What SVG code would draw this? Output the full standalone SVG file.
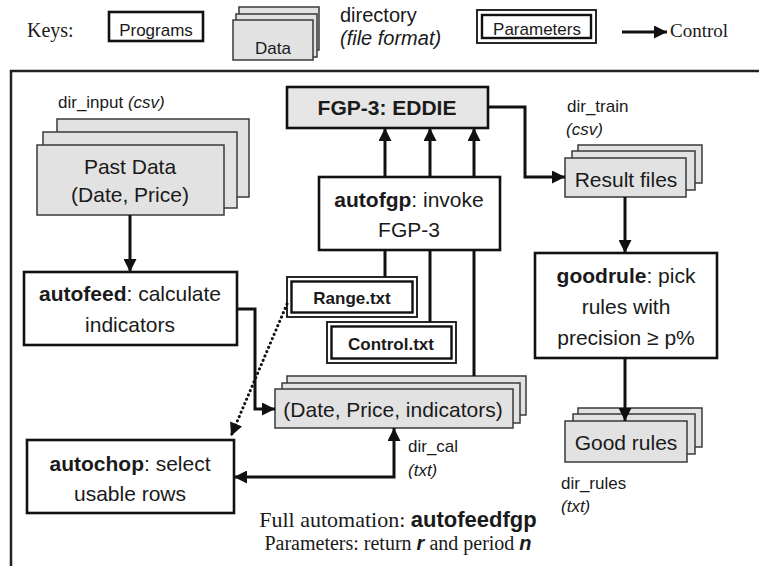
<svg xmlns="http://www.w3.org/2000/svg" width="759" height="566" viewBox="0 0 759 566">
<style>
.prog{fill:#fff;stroke:#111;stroke-width:2.6}
.eddie{fill:#e6e6e6;stroke:#111;stroke-width:2.6}
.sheet{fill:#e2e2e2;stroke:#3a3a3a;stroke-width:1.5}
.po{fill:#fff;stroke:#111;stroke-width:1.8}
.pi{fill:none;stroke:#111;stroke-width:2.4}
.s{font-family:"Liberation Sans",Arial,sans-serif;fill:#1a1a1a}
.r{font-family:"Liberation Serif","Times New Roman",serif;fill:#1a1a1a}
.m{text-anchor:middle}
.b{font-weight:bold}
.i{font-style:italic}
.n21{font-size:21px}
.n17{font-size:17px}
.c{stroke:#111;stroke-width:3;fill:none}
.dot{stroke:#111;stroke-width:3;fill:none;stroke-dasharray:0.1 4.6;stroke-linecap:round}
.frame{stroke:#222;stroke-width:2.5;fill:none}
</style>
<defs>
<marker id="arr" viewBox="0 0 10 10" refX="10" refY="5" markerUnits="userSpaceOnUse" markerWidth="15" markerHeight="13" orient="auto-start-reverse">
<path d="M0,0 L10,5 L0,10 z" fill="#111"/>
</marker>
</defs>

<!-- Keys -->
<g id="keys">
<text class="r" x="27" y="37" font-size="20">Keys:</text>
<g id="key-programs">
<rect class="prog" x="109" y="12" width="94" height="29"/>
<text class="s m" x="156" y="36" font-size="17">Programs</text>
</g>
<g id="key-data">
<rect class="sheet" x="239" y="7" width="80" height="43"/>
<rect class="sheet" x="236" y="14" width="81" height="43"/>
<rect class="sheet" x="233" y="20" width="80" height="40"/>
<text class="s m" x="273" y="54" font-size="17">Data</text>
</g>
<g id="key-directory">
<text class="s" x="340" y="22" font-size="20">directory</text>
<text class="s i" x="340" y="45" font-size="20">(file format)</text>
</g>
<g id="key-parameters">
<rect class="po" x="477" y="10" width="119" height="33"/>
<rect class="pi" x="482" y="15" width="109" height="23"/>
<text class="s m" x="537" y="35" font-size="17">Parameters</text>
</g>
<g id="key-control">
<line class="c" x1="622" y1="32" x2="667" y2="32" marker-end="url(#arr)"/>
<text class="r" x="670" y="37" font-size="19">Control</text>
</g>
</g>

<!-- Frame -->
<path class="frame" d="M759,71 L11,71 L11,566"/>

<!-- Nodes -->
<g id="past-data">
<rect class="sheet" x="57" y="119" width="192" height="78"/>
<rect class="sheet" x="43" y="132" width="194" height="76"/>
<rect class="sheet" x="37" y="145" width="187" height="70"/>
<text class="s m n21" x="130" y="174">Past Data</text>
<text class="s m n21" x="130" y="202">(Date, Price)</text>
<text class="s n17" x="58" y="108">dir_input <tspan class="i">(csv)</tspan></text>
</g>

<g id="autofeed">
<rect class="prog" x="24" y="272" width="213" height="73"/>
<text class="s m n21" x="130" y="301"><tspan class="b">autofeed</tspan>: calculate</text>
<text class="s m n21" x="130" y="332">indicators</text>
</g>

<g id="autochop">
<rect class="prog" x="27" y="440" width="207" height="73"/>
<text class="s m n21" x="130" y="471"><tspan class="b">autochop</tspan>: select</text>
<text class="s m n21" x="130" y="501">usable rows</text>
</g>

<g id="fgp3">
<rect class="eddie" x="287" y="87" width="201" height="41"/>
<text class="s m b n21" x="387" y="115">FGP-3: EDDIE</text>
</g>

<g id="autofgp">
<rect class="prog" x="319" y="177" width="181" height="73"/>
<text class="s m n21" x="409" y="207"><tspan class="b">autofgp</tspan>: invoke</text>
<text class="s m n21" x="409" y="237">FGP-3</text>
</g>

<g id="range">
<rect class="po" x="287" y="277" width="130" height="40"/>
<rect class="pi" x="291.5" y="281.5" width="121" height="31"/>
<text class="s m b n17" x="352" y="304">Range.txt</text>
</g>

<g id="control">
<rect class="po" x="327" y="322" width="129" height="41"/>
<rect class="pi" x="331.5" y="326.5" width="120" height="32"/>
<text class="s m b n17" x="391" y="350">Control.txt</text>
</g>

<g id="dir-cal">
<rect class="sheet" x="287" y="376" width="239" height="39"/>
<rect class="sheet" x="282" y="383" width="238" height="40"/>
<rect class="sheet" x="275" y="389" width="238" height="39"/>
<text class="s m n21" x="393" y="417">(Date, Price, indicators)</text>
<text class="s n17" x="408" y="452">dir_cal</text>
<text class="s i n17" x="408" y="476">(txt)</text>
</g>

<g id="result-files">
<rect class="sheet" x="578" y="145" width="124" height="38"/>
<rect class="sheet" x="572" y="151" width="123" height="39"/>
<rect class="sheet" x="565" y="158" width="121" height="39"/>
<text class="s m n21" x="626" y="187">Result files</text>
<text class="s n17" x="567" y="112">dir_train</text>
<text class="s i n17" x="566" y="135">(csv)</text>
</g>

<g id="goodrule">
<rect class="prog" x="535" y="253" width="182" height="105"/>
<text class="s m n21" x="626" y="283"><tspan class="b">goodrule</tspan>: pick</text>
<text class="s m n21" x="626" y="314">rules with</text>
<text class="s m n21" x="626" y="345">precision ≥ p%</text>
</g>

<g id="good-rules">
<rect class="sheet" x="578" y="408" width="124" height="39"/>
<rect class="sheet" x="573" y="414" width="122" height="40"/>
<rect class="sheet" x="565" y="421" width="122" height="41"/>
<text class="s m n21" x="626" y="450">Good rules</text>
<text class="s n17" x="561" y="489">dir_rules</text>
<text class="s i n17" x="561" y="512">(txt)</text>
</g>

<!-- Connectors -->
<g id="connectors">
<line class="c" x1="130" y1="215" x2="130" y2="272" marker-end="url(#arr)"/>
<polyline class="c" points="237,309 255,309 255,409 275,409" marker-end="url(#arr)"/>
<line class="dot" x1="287" y1="304" x2="231" y2="436" marker-end="url(#arr)"/>
<line class="c" x1="385" y1="277" x2="385" y2="250"/>
<line class="c" x1="385" y1="177" x2="385" y2="128" marker-end="url(#arr)"/>
<line class="c" x1="430" y1="322" x2="430" y2="250"/>
<line class="c" x1="430" y1="177" x2="430" y2="128" marker-end="url(#arr)"/>
<line class="c" x1="474" y1="376" x2="474" y2="250"/>
<line class="c" x1="474" y1="177" x2="474" y2="128" marker-end="url(#arr)"/>
<polyline class="c" points="488,107 525,107 525,177 565,177" marker-end="url(#arr)"/>
<line class="c" x1="625" y1="197" x2="625" y2="253" marker-end="url(#arr)"/>
<line class="c" x1="625" y1="358" x2="625" y2="421" marker-end="url(#arr)"/>
<polyline class="c" points="394,428 394,477 234,477" marker-start="url(#arr)" marker-end="url(#arr)"/>
</g>

<!-- Caption -->
<g id="caption">
<text class="m" x="398" y="527" font-size="22"><tspan class="r">Full automation: </tspan><tspan class="s b">autofeedfgp</tspan></text>
<text class="m" x="398" y="550" font-size="20"><tspan class="r">Parameters: return </tspan><tspan class="s b i">r</tspan><tspan class="r"> and period </tspan><tspan class="s b i">n</tspan></text>
</g>
</svg>
